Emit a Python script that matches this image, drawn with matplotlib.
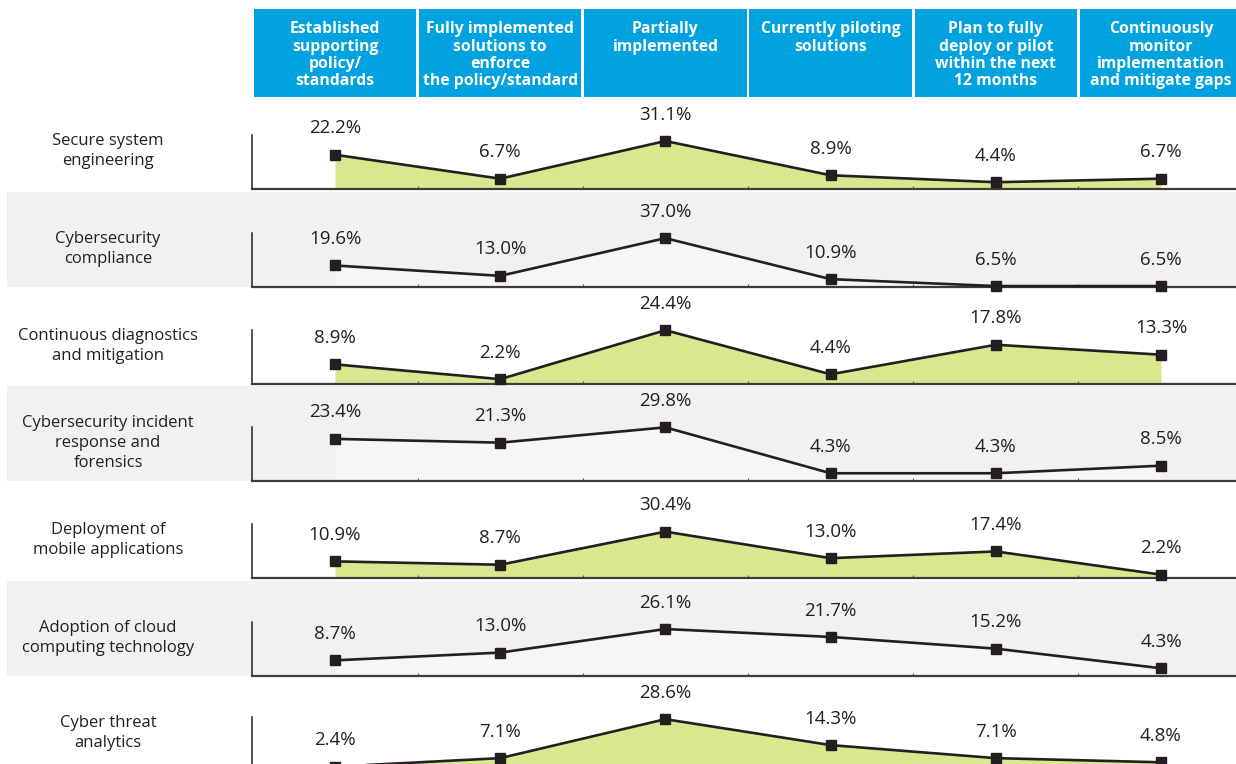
import matplotlib
matplotlib.use('Agg')
import matplotlib.pyplot as plt
from matplotlib.patches import Rectangle

plt.rcParams['font.family'] = ['Open Sans', 'DejaVu Sans']

# Données
columns = ['Established\nsupporting\npolicy/\nstandards',
           'Fully implemented\nsolutions to\nenforce\nthe policy/standard',
           'Partially\nimplemented',
           'Currently piloting\nsolutions',
           'Plan to fully\ndeploy or pilot\nwithin the next\n12 months',
           'Continuously\nmonitor\nimplementation\nand mitigate gaps']

rows = ['Secure system\nengineering',
        'Cybersecurity\ncompliance',
        'Continuous diagnostics\nand mitigation',
        'Cybersecurity incident\nresponse and\nforensics',
        'Deployment of\nmobile applications',
        'Adoption of cloud\ncomputing technology',
        'Cyber threat\nanalytics']

secure_system = [22.2, 6.7, 31.1, 8.9, 4.4, 6.7]
compliance = [19.6, 13.0, 37.0, 10.9, 6.5, 6.5]
diagnostics = [8.9, 2.2, 24.4, 4.4, 17.8, 13.3]
incident_response = [23.4, 21.3, 29.8, 4.3, 4.3, 8.5]
mobile_apps = [10.9, 8.7, 30.4, 13.0, 17.4, 2.2]
cloud = [8.7, 13.0, 26.1, 21.7, 15.2, 4.3]
threat_analytics = [2.4, 7.1, 28.6, 14.3, 7.1, 4.8]

series = [secure_system, compliance, diagnostics, incident_response,
          mobile_apps, cloud, threat_analytics]

# Mise en page (pixels)
W, H = 1236, 764
x_left, x_width = 252.4, 991.2
row_bottom = [189, 287, 384, 481, 578, 676, 771]
row_height = 54
ylims = [(0, 35), (5.9, 40.3), (0, 24.5), (0, 30), (0, 35.4), (0, 30), (0, 29.8)]

blue = '#00A3E0'
green = '#D7E88F'
band = '#F0F1F3'
light_fill = '#F6F6F6'
ink = '#231F20'

fig = plt.figure(figsize=(W / 100, H / 100), dpi=100)

# En-tête
hax = fig.add_axes([x_left / W, 1 - 97 / H, x_width / W, 88 / H])
hax.set_xlim(0, 6)
hax.set_ylim(0, 1)
hax.axis('off')
for i, col in enumerate(columns):
    hax.add_patch(Rectangle((i + 0.009, 0), 0.982, 1, color=blue, lw=0))
    hax.text(i + 0.5, 0.86, col, ha='center', va='top', color='white',
             fontsize=11.3, fontweight='bold', linespacing=1.1)

for r, (label, vals) in enumerate(zip(rows, series)):
    yb = row_bottom[r]
    shaded = r % 2 == 1
    if shaded:
        fig.patches.append(Rectangle((7 / W, 1 - yb / H), (W - 7) / W, 95 / H,
                                     transform=fig.transFigure, color=band,
                                     lw=0, zorder=-1))
    ax = fig.add_axes([x_left / W, 1 - yb / H, x_width / W, row_height / H])
    ax.set_facecolor('none')
    ax.set_xlim(0, 6)
    ax.set_ylim(*ylims[r])
    x = [i + 0.5 for i in range(len(vals))]
    ax.fill_between(x, vals, ylims[r][0], color=light_fill if shaded else green,
                    lw=0, zorder=1)
    ax.plot(x, vals, color=ink, lw=1.9, marker='s', markersize=7,
            clip_on=False, zorder=3)
    for xi, v in zip(x, vals):
        ax.annotate(f'{v:.1f}%', (xi, v), xytext=(0, 19), textcoords='offset points',
                    ha='center', va='center', fontsize=13.5, color=ink)
    for s in ['top', 'right']:
        ax.spines[s].set_visible(False)
    ax.spines['left'].set_color(ink)
    ax.spines['left'].set_linewidth(1.1)
    ax.spines['bottom'].set_color('#3C3C3C')
    ax.spines['bottom'].set_linewidth(1.6)
    ax.set_xticks([1, 2, 3, 4, 5])
    ax.set_xticklabels([])
    ax.set_yticks([])
    ax.tick_params(axis='x', direction='in', length=2, width=0.8, color='#555555')

    # Libellé de ligne
    fig.text(108 / W, 1 - (yb - 38) / H, label, ha='center', va='center',
             fontsize=12, color=ink, linespacing=1.3)

fig.savefig('out.png', dpi=100)
